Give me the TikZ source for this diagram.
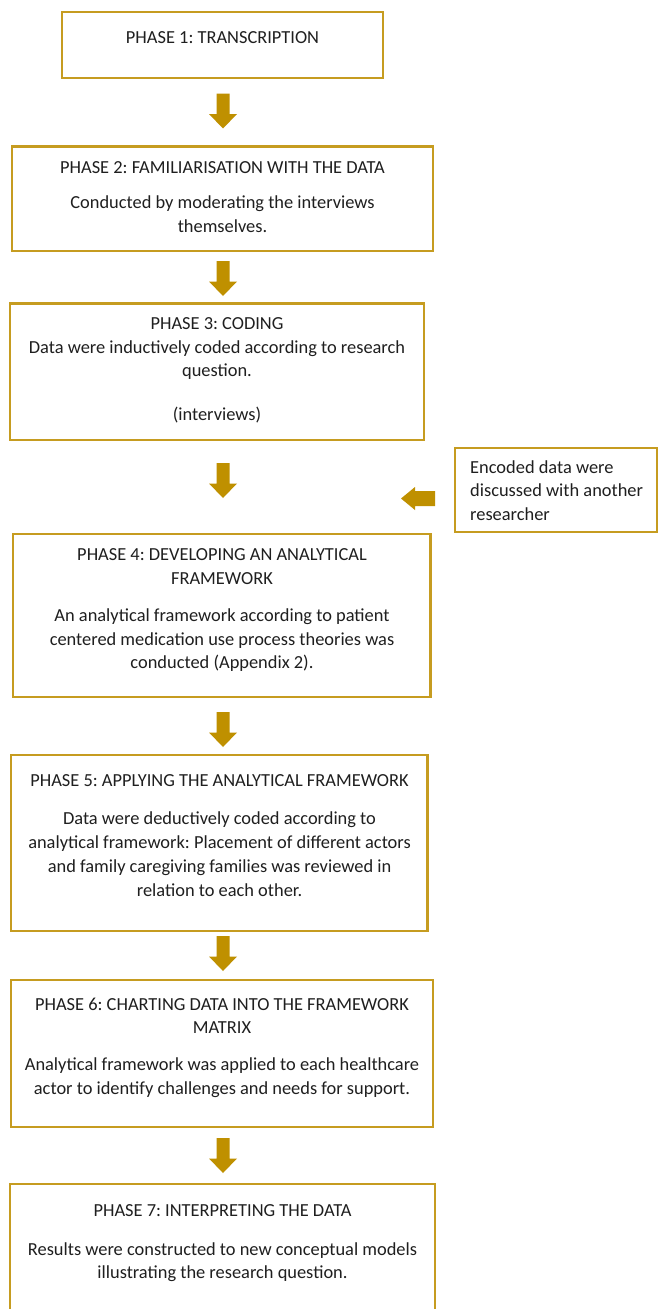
\documentclass[tikz,border=0pt]{standalone}
\usepackage{fontspec}
\setmainfont{Carlito}
\frenchspacing
\definecolor{boxgold}{RGB}{198,156,32}
\definecolor{arrowgold}{RGB}{191,144,0}
\newcommand{\dnarrow}[3]{%
  \coordinate (#1) at (#2,#3);
  \fill[arrowgold, shift={(#1)}] (-6.5,0) -- (6.5,0) -- (6.5,20.5) -- (14,20.5) -- (0,35)
    -- (-14,20.5) -- (-6.5,20.5) -- cycle;}
\begin{document}
\begin{tikzpicture}[x=1pt,y=-1pt,
  phasebox/.style={draw=boxgold, line width=2.2pt, fill=white, inner sep=0pt},
  txt/.style={anchor=base, inner sep=0pt, font=\fontsize{18.4}{22}\selectfont, text=black!88},
  ltxt/.style={anchor=base west, inner sep=0pt, font=\fontsize{18.4}{22}\selectfont, text=black!88}]
\useasboundingbox (0,0) rectangle (658,1309);
\fill[white] (0,0) rectangle (658,1309);

% boxes
\draw[phasebox] (62,12) rectangle (383,78);
\draw[phasebox] (12,146.5) rectangle (433,251);
\draw[phasebox] (10,303.5) rectangle (424,440);
\draw[phasebox] (455,448) rectangle (657,532);
\draw[phasebox] (13,534) rectangle (430.5,697);
\draw[phasebox] (11,755) rectangle (427.5,931);
\draw[phasebox] (11,980) rectangle (433,1127);
\draw[phasebox] (10,1184) rectangle (435,1320);

% arrows
\dnarrow{a1}{223}{93.5}
\dnarrow{a2}{223}{261}
\dnarrow{a3}{223}{463}
\dnarrow{a4}{223}{712}
\dnarrow{a5}{223}{936}
\dnarrow{a6}{223}{1138}
\coordinate (al) at (435,498.5);
\fill[arrowgold, shift={(al)}] (0,-7.5) -- (-20,-7.5) -- (-20,-11.5) -- (-34,0)
  -- (-20,11.5) -- (-20,7.5) -- (0,7.5) -- cycle;

% texts
\node[txt] (t1) at (222.5,43.3) {PHASE 1: TRANSCRIPTION};

\node[txt] (t2a) at (222.5,173.3) {PHASE 2: FAMILIARISATION WITH THE DATA};
\node[txt] (t2b) at (222.5,208.5) {Conducted by moderating the interviews};
\node[txt] (t2c) at (222.5,232.5) {themselves.};

\node[txt] (t3a) at (217,329.3) {PHASE 3: CODING};
\node[txt] (t3b) at (217,353.3) {Data were inductively coded according to research};
\node[txt] (t3c) at (217,376.7) {question.};
\node[txt] (t3d) at (217,420) {(interviews)};

\node[ltxt] (s1) at (470,473.3) {Encoded data were};
\node[ltxt] (s2) at (470,496.7) {discussed with another};
\node[ltxt] (s3) at (470,520) {researcher};

\node[txt] (t4a) at (222,560.7) {PHASE 4: DEVELOPING AN ANALYTICAL};
\node[txt] (t4b) at (222,584) {FRAMEWORK};
\node[txt] (t4c) at (222,621.7) {An analytical framework according to patient};
\node[txt] (t4d) at (222,645) {centered medication use process theories was};
\node[txt] (t4e) at (222,668.3) {conducted (Appendix 2).};

\node[txt] (t5a) at (219.5,786.7) {PHASE 5: APPLYING THE ANALYTICAL FRAMEWORK};
\node[txt] (t5b) at (219.5,824) {Data were deductively coded according to};
\node[txt] (t5c) at (219.5,848.3) {analytical framework: Placement of different actors};
\node[txt] (t5d) at (219.5,872) {and family caregiving families was reviewed in};
\node[txt] (t5e) at (219.5,896) {relation to each other.};

\node[txt] (t6a) at (222,1010) {PHASE 6: CHARTING DATA INTO THE FRAMEWORK};
\node[txt] (t6b) at (222,1033.3) {MATRIX};
\node[txt] (t6c) at (222,1070.7) {Analytical framework was applied to each healthcare};
\node[txt] (t6d) at (222,1094) {actor to identify challenges and needs for support.};

\node[txt] (t7a) at (222.5,1216.7) {PHASE 7: INTERPRETING THE DATA};
\node[txt] (t7b) at (222.5,1255) {Results were constructed to new conceptual models};
\node[txt] (t7c) at (222.5,1278.3) {illustrating the research question.};
\end{tikzpicture}
\end{document}
